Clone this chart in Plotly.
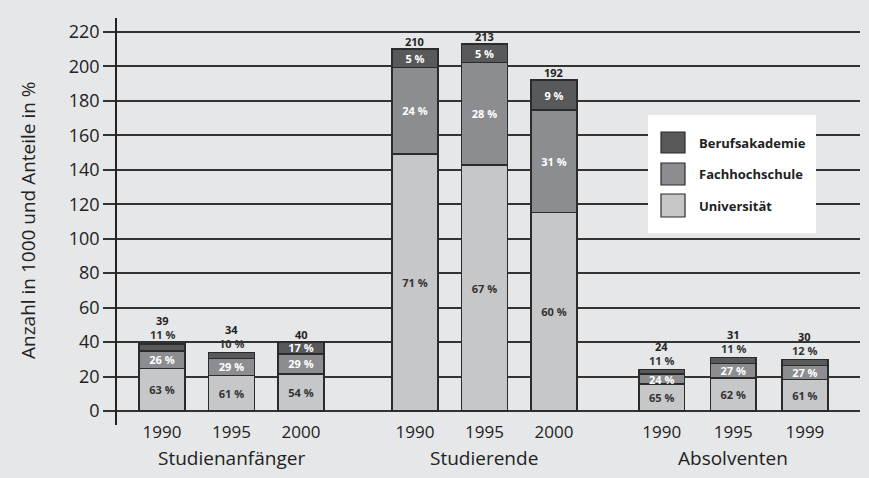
import plotly.graph_objects as go

# ---- data ----
groups = ["Studienanfänger", "Studierende", "Absolventen"]
years = ["1990", "1995", "2000", "1990", "1995", "2000", "1990", "1995", "1999"]
totals = [39, 34, 40, 210, 213, 192, 24, 31, 30]
pct_uni = [63, 61, 54, 71, 67, 60, 65, 62, 61]
pct_fh = [26, 29, 29, 24, 28, 31, 24, 27, 27]
pct_ba = [11, 10, 17, 5, 5, 9, 11, 11, 12]
ba_inside = [False, False, True, True, True, True, False, False, False]
series_names = ["Universität", "Fachhochschule", "Berufsakademie"]
y_ticks = [0, 20, 40, 60, 80, 100, 120, 140, 160, 180, 200, 220]

# ---- layout constants ----
xpos = [0, 1, 2, 3.64, 4.64, 5.64, 7.19, 8.22, 9.25]
group_centers = [1, 4.64, 8.22]
W, H = 869, 478
ML, MR, MT, MB = 117, 9, 18, 53
PW, PH = W - ML - MR, H - MT - MB
BG = "#e6e7e8"
C_UNI, C_FH, C_BA = "#c6c7c9", "#8c8d90", "#58595b"
EDGE = "#2b2b2b"
FONT = "Open Sans"

uni = [t * p / 100 for t, p in zip(totals, pct_uni)]
fh = [t * p / 100 for t, p in zip(totals, pct_fh)]
ba = [t * p / 100 for t, p in zip(totals, pct_ba)]

def pct_text(vals):
    return [f"{v} %" for v in vals]

fig = go.Figure()
for name, vals, pct, color, tcol in [
    ("Universität", uni, pct_uni, C_UNI, "#333333"),
    ("Fachhochschule", fh, pct_fh, C_FH, "white"),
    ("Berufsakademie", ba, pct_ba, C_BA, "white"),
]:
    txt = pct_text(pct)
    if name == "Berufsakademie":
        txt = [t if ins else "" for t, ins in zip(txt, ba_inside)]
    fig.add_trace(go.Bar(
        x=xpos, y=vals, name=name, width=0.66,
        marker=dict(color=color, line=dict(color=EDGE, width=1.5)),
        text=txt, textposition="inside", insidetextanchor="middle",
        textangle=0,
        textfont=dict(family=FONT, size=11, color=tcol, weight="bold"),
        showlegend=False, hoverinfo="skip",
    ))

annotations = []
for i in range(len(totals)):
    top = uni[i] + fh[i] + ba[i]
    if ba_inside[i]:
        annotations.append(dict(x=xpos[i], y=top, text=str(totals[i]), showarrow=False,
                                yanchor="middle", yshift=8,
                                font=dict(family=FONT, size=11, color="#222", weight="bold")))
    else:
        annotations.append(dict(x=xpos[i], y=top, text=f"{pct_ba[i]} %", showarrow=False,
                                yanchor="middle", yshift=9,
                                font=dict(family=FONT, size=11, color="#333", weight="bold")))
        annotations.append(dict(x=xpos[i], y=top, text=str(totals[i]), showarrow=False,
                                yanchor="middle", yshift=23,
                                font=dict(family=FONT, size=11, color="#222", weight="bold")))

for g, c in zip(groups, group_centers):
    annotations.append(dict(x=c, xref="x", y=(425 - 458) / PH, yref="paper", text=g,
                            xanchor="center", yanchor="middle",
                            showarrow=False, font=dict(family=FONT, size=19, color="#222")))

annotations.append(dict(x=(28 - ML) / PW, xref="paper", y=(MT + PH - 220) / PH, yref="paper",
                        xanchor="center", yanchor="middle",
                        text="Anzahl in 1000 und Anteile in %", textangle=-90, showarrow=False,
                        font=dict(family=FONT, size=19, color="#222")))

def px(xp):
    return (xp - ML) / PW

def py(yp):
    return (MT + PH - yp) / PH

shapes = [dict(type="rect", xref="paper", yref="paper", x0=px(648), x1=px(816), y0=py(233), y1=py(115),
               fillcolor="white", line=dict(width=0), layer="above")]
legend_items = [("Berufsakademie", C_BA, 132, 153), ("Fachhochschule", C_FH, 163, 185), ("Universität", C_UNI, 194, 217)]
for name, col, y0, y1 in legend_items:
    shapes.append(dict(type="rect", xref="paper", yref="paper", x0=px(661), x1=px(685), y0=py(y1), y1=py(y0),
                       fillcolor=col, line=dict(color=EDGE, width=1.2), layer="above"))
    annotations.append(dict(x=px(697), y=py((y0 + y1) / 2), xref="paper", yref="paper", text=name,
                            xanchor="left", yanchor="middle", showarrow=False,
                            font=dict(family=FONT, size=13, color="#222", weight="bold")))

ppu = 379 / 220
fig.update_layout(
    barmode="stack",
    width=W, height=H,
    margin=dict(l=ML, r=MR, t=MT, b=MB, autoexpand=False),
    paper_bgcolor=BG, plot_bgcolor=BG,
    font=dict(family=FONT, color="#222"),
    annotations=annotations, shapes=shapes,
    xaxis=dict(range=[(ML - 162) / 69.5, (860 - 162) / 69.5], tickvals=xpos, ticktext=years,
               showgrid=False, zeroline=False, showline=False, ticks="",
               ticklabelstandoff=-5,
               tickfont=dict(family=FONT, size=17, color="#222"), fixedrange=True),
    yaxis=dict(range=[-(425 - 411) / ppu, 220 + (32 - 18) / ppu], tickvals=y_ticks,
               showgrid=True, gridcolor="#333333", gridwidth=1.5, zeroline=False,
               showline=True, linecolor="#222", linewidth=1.5,
               ticks="outside", ticklen=12, tickwidth=1.5, tickcolor="#333333",
               tickfont=dict(family=FONT, size=18, color="#222")),
    uniformtext=dict(minsize=11, mode="show"),
)

fig.write_html("out.html")
